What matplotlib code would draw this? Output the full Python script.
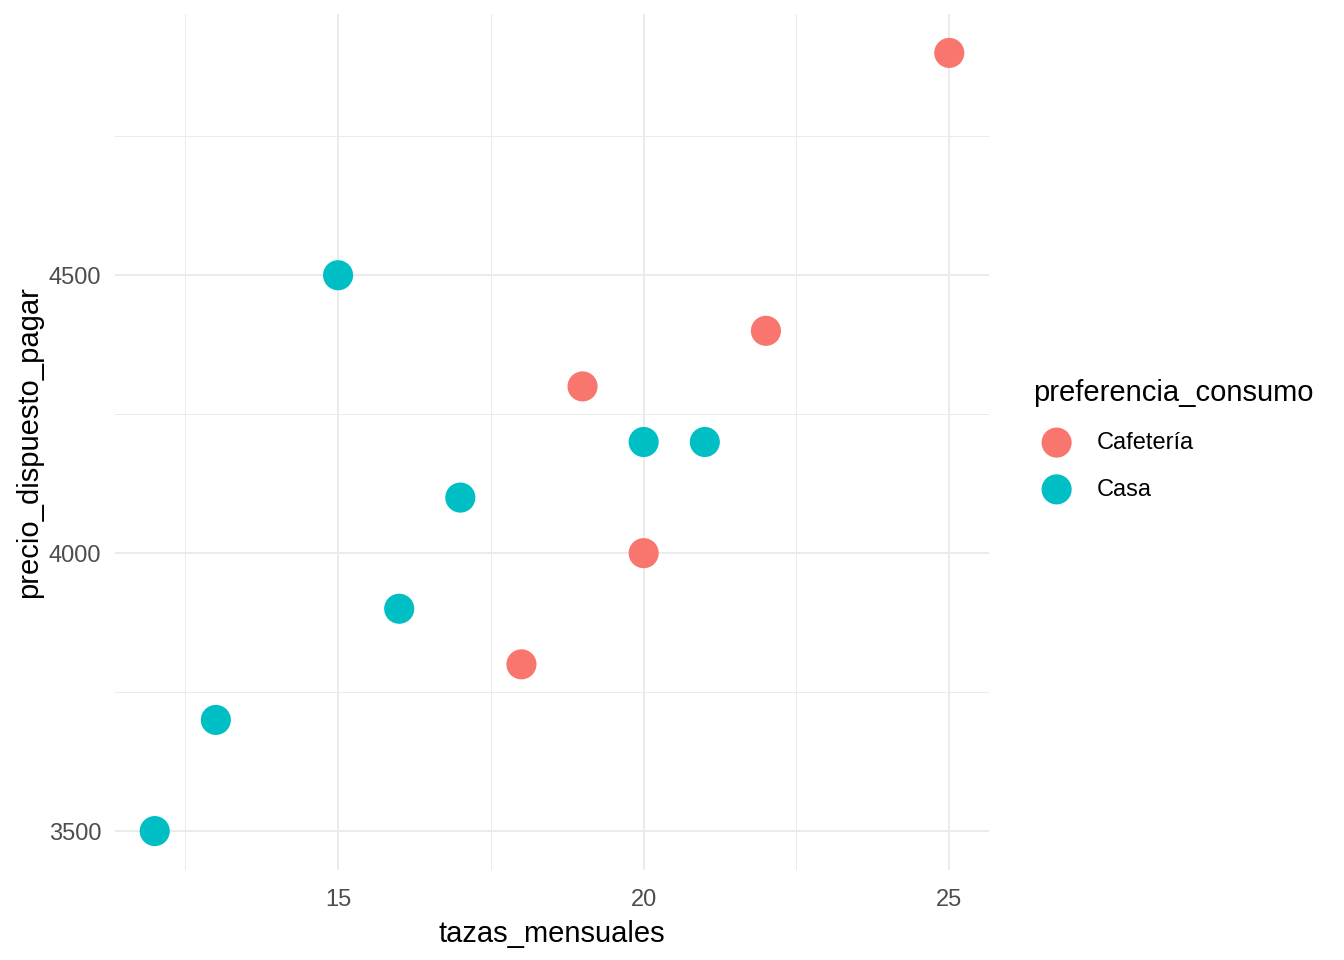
import matplotlib
matplotlib.use("Agg")
import matplotlib.pyplot as plt
from matplotlib.ticker import MultipleLocator

plt.rcParams['font.family'] = ['Liberation Sans', 'DejaVu Sans']

caf_x = [18, 19, 20, 22, 25]
caf_y = [3800, 4300, 4000, 4400, 4900]
casa_x = [12, 13, 15, 16, 17, 20, 21]
casa_y = [3500, 3700, 4500, 3900, 4100, 4200, 4200]
groups = ["Cafetería", "Casa"]
colors = ["#F8766D", "#00BFC4"]

W, H = 1344, 960
fig = plt.figure(figsize=(W/100, H/100), dpi=100)
ax = fig.add_axes([115/W, 1-870/H, (989-115)/W, (870-14)/H])

h1 = ax.scatter(caf_x, caf_y, s=470, color=colors[0], edgecolors='none', zorder=3, label=groups[0])
h2 = ax.scatter(casa_x, casa_y, s=470, color=colors[1], edgecolors='none', zorder=3, label=groups[1])

xmin, xmax = 12, 25
ymin, ymax = 3500, 4900
ax.set_xlim(xmin - 0.05*(xmax-xmin), xmax + 0.05*(xmax-xmin))
ax.set_ylim(ymin - 0.05*(ymax-ymin), ymax + 0.05*(ymax-ymin))
ax.xaxis.set_major_locator(MultipleLocator(5))
ax.xaxis.set_minor_locator(MultipleLocator(2.5))
ax.yaxis.set_major_locator(MultipleLocator(500))
ax.yaxis.set_minor_locator(MultipleLocator(250))
ax.grid(which='major', color='#EBEBEB', linewidth=1.4)
ax.grid(which='minor', color='#EBEBEB', linewidth=0.7)
ax.set_axisbelow(True)
for sp in ax.spines.values():
    sp.set_visible(False)
ax.tick_params(which='both', length=0)
ax.tick_params(axis='both', labelsize=17, labelcolor='#4D4D4D')
ax.tick_params(axis='y', pad=10)
ax.tick_params(axis='x', pad=14)
ax.set_xlabel("tazas_mensuales", fontsize=21, labelpad=6)
ax.set_ylabel("precio_dispuesto_pagar", fontsize=21, labelpad=4)

leg = fig.legend(handles=[h1, h2], title="preferencia_consumo", loc='upper left',
                 bbox_to_anchor=(1033/W, 1-379/H), frameon=False, fontsize=17,
                 title_fontsize=21, handletextpad=0.7, labelspacing=1.05,
                 markerscale=1.0, borderaxespad=0, borderpad=0)
leg._legend_box.align = "left"

fig.savefig("out.png", dpi=100)
